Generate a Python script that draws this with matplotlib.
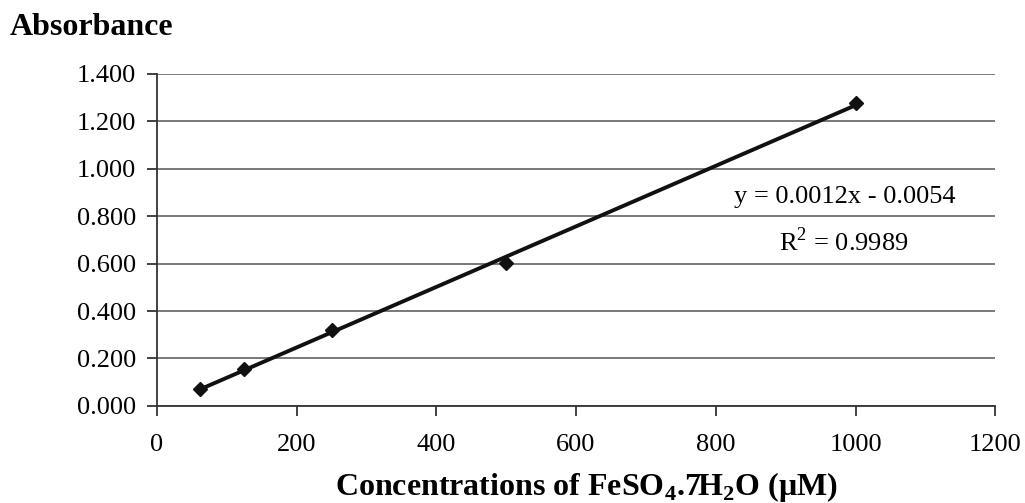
import numpy as np
import matplotlib
matplotlib.use("Agg")
import matplotlib.pyplot as plt
from matplotlib.ticker import FormatStrFormatter

conc = [62.5, 125, 250, 500, 1000]
absorb = [0.072, 0.156, 0.320, 0.603, 1.278]
xticks = [0, 200, 400, 600, 800, 1000, 1200]
yticks = [0.0, 0.2, 0.4, 0.6, 0.8, 1.0, 1.2, 1.4]

plt.rcParams['font.family'] = ['Liberation Serif', 'DejaVu Serif']
plt.rcParams['mathtext.fontset'] = 'custom'
plt.rcParams['mathtext.rm'] = 'Liberation Serif'
plt.rcParams['mathtext.bf'] = 'Liberation Serif:bold'

fig = plt.figure(figsize=(10.25, 5.03), dpi=100)
ax = fig.add_axes([0.153, 0.193, 0.818, 0.660])

slope, intercept = np.polyfit(conc, absorb, 1)
xs = np.array([min(conc), max(conc)])
ax.plot(xs, slope * xs + intercept, color='#111111', lw=2.8, zorder=3)
ax.plot(conc, absorb, linestyle='none', marker='D', color='#111111', ms=7, zorder=4)

ax.set_xlim(0, 1200)
ax.set_ylim(0, 1.4)
ax.set_xticks(xticks)
ax.set_yticks(yticks)
ax.yaxis.set_major_formatter(FormatStrFormatter('%.3f'))
ax.grid(axis='y', color='#555555', lw=1.1)
ax.set_axisbelow(True)
for s in ['top', 'right']:
    ax.spines[s].set_visible(False)
for s in ['left', 'bottom']:
    ax.spines[s].set_color('#333333')
    ax.spines[s].set_linewidth(1.3)
ax.tick_params(axis='both', labelsize=19, color='#333333', length=7, width=1.3)
ax.tick_params(axis='x', pad=13)
ax.tick_params(axis='y', pad=8)

ax.text(984, 0.88, 'y = 0.0012x - 0.0054', fontsize=19, ha='center', va='center')
ax.text(983, 0.693, r'R$^2$ = 0.9989', fontsize=19, ha='center', va='center')

fig.text(0.010, 0.946, 'Absorbance', fontsize=23, fontweight='bold', ha='left', va='center')
fig.text(0.572, 0.032,
         r'Concentrations of FeSO$_\mathbf{4}$.7H$_\mathbf{2}$O ($\mathbf{\mu}$M)',
         fontsize=23, fontweight='bold', ha='center', va='center')

fig.savefig('out.png', dpi=100)
